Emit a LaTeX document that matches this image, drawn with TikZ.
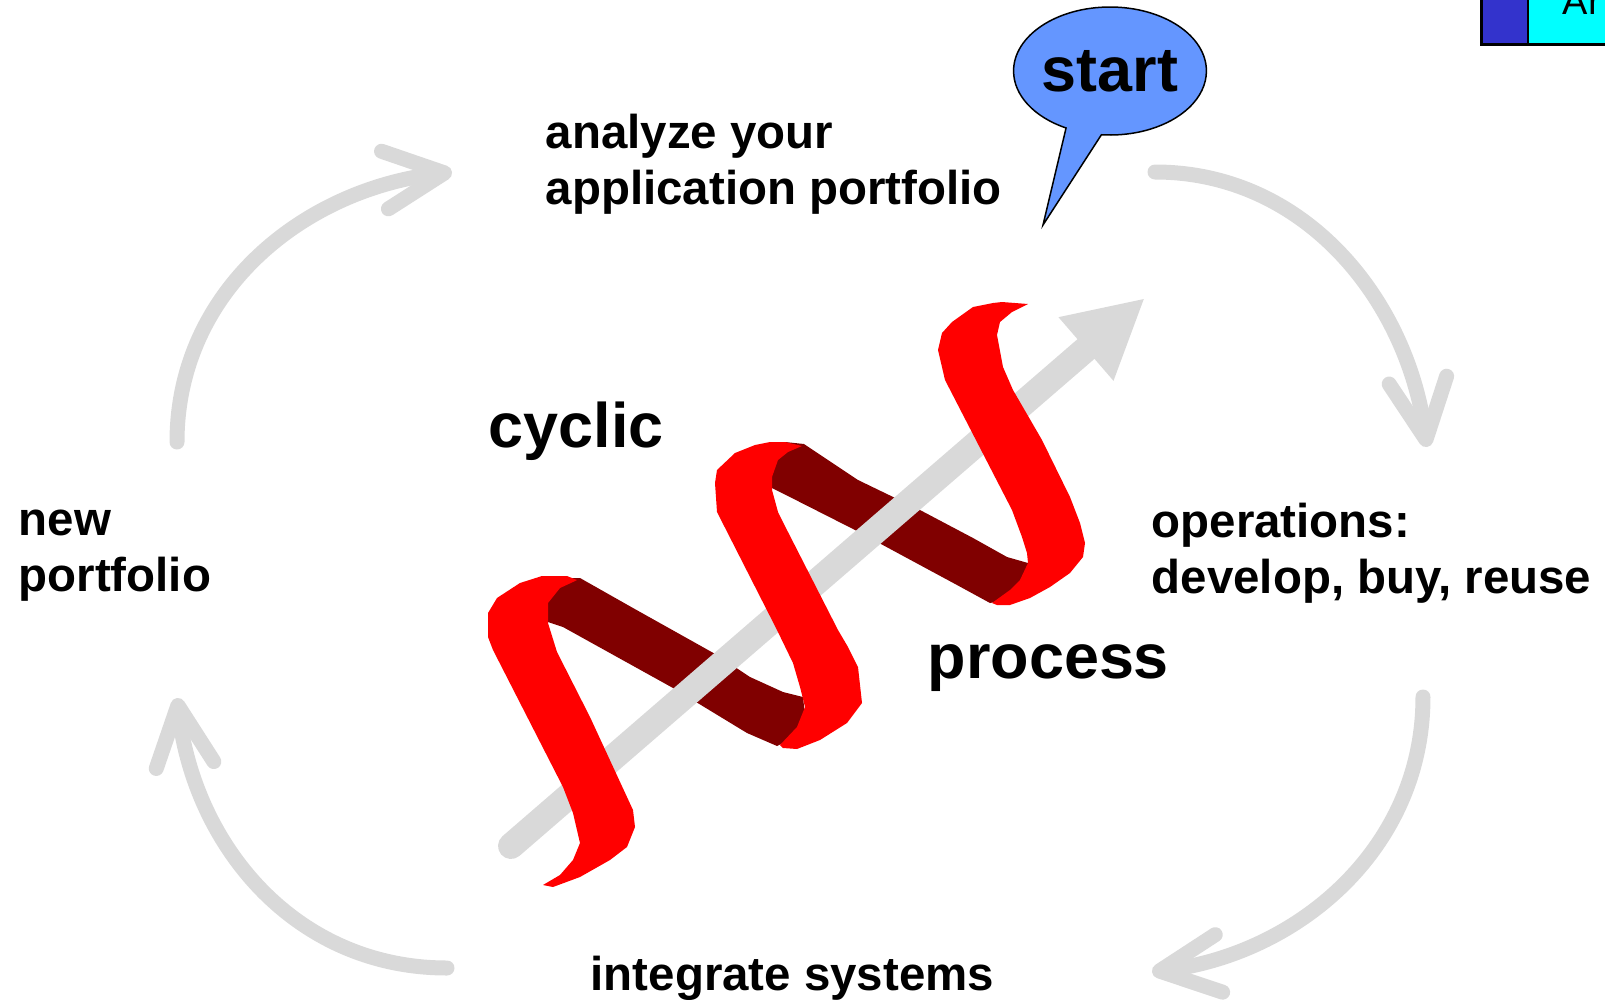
\documentclass[tikz,border=0pt]{standalone}
\usepackage{fontspec}
\setmainfont{Liberation Sans}
\usetikzlibrary{arrows.meta,shapes.callouts}

\definecolor{cyclegray}{RGB}{217,217,217}
\definecolor{ribbonred}{RGB}{255,0,0}
\definecolor{ribbondark}{RGB}{128,0,0}
\definecolor{bubbleblue}{RGB}{100,150,255}
\definecolor{boxblue}{RGB}{51,51,204}
\definecolor{boxcyan}{RGB}{0,255,255}

\begin{document}
\begin{tikzpicture}[x=0.1mm, y=-0.1mm,
    lbl/.style={font=\fontsize{13.5pt}{16pt}\selectfont\bfseries, anchor=base west, inner sep=0pt},
    biglbl/.style={font=\fontsize{17.9pt}{21pt}\selectfont\bfseries, anchor=base west, inner sep=0pt},
    cyclearrow/.style={draw=cyclegray, line width=1.5mm, line cap=round,
        -{Straight Barb[length=6mm, width=5.8mm, round]}},
    front/.style={fill=ribbonred},
    back/.style={fill=ribbondark}]
        \useasboundingbox (0,0) rectangle (1605,1000);
        \clip (0,0) rectangle (1605,1000);

        % Corner box
        \fill[boxblue] (1481,-20) rectangle (1528,45);
        \fill[boxcyan] (1528,-20) rectangle (1640,45);
        \draw[line width=0.2mm] (1528,-20) -- (1528,45);
        \draw[line width=0.3mm] (1481,-20) rectangle (1640,44.5);
        \node[font=\fontsize{10.8pt}{13pt}\selectfont, anchor=base west, inner sep=0pt] (corner) at (1562,14) {Ar};

        % Cycle
        \coordinate (tl0) at (177,442);
        \coordinate (tl1) at (452,172);
        \coordinate (tr0) at (1155,172);
        \coordinate (tr1) at (1427,447);
        \coordinate (br0) at (1423,697);
        \coordinate (br1) at (1152,972);
        \coordinate (bl0) at (447,968);
        \coordinate (bl1) at (177,698);
        \draw[cyclearrow] (tl0) .. controls (177,292) and (302,190) .. (tl1);
        \draw[cyclearrow] (tr0) .. controls (1305,172) and (1407,300) .. (tr1);
        \draw[cyclearrow] (br0) .. controls (1423,847) and (1300,953) .. (br1);
        \draw[cyclearrow] (bl0) .. controls (297,968) and (195,848) .. (bl1);

        % Spiral, back side
        \fill[back] plot coordinates {(546,592) (560,578) (580,578) (633,608) (717,655) (750,677) (783,692) (803,697) (805,715) (795,737) (777,746) (747,733) (673,688) (563,627) (548,622)} -- cycle;
        \fill[back] plot coordinates {(770,456) (785,442) (804,444) (858,480) (920,510) (973,538) (1007,557) (1028,563) (1025,585) (1005,600) (990,603) (957,585) (855,530) (782,493) (772,488)} -- cycle;

        % Axis
        \coordinate (axis0) at (511,846);
        \coordinate (axis1) at (1145,298);
        \draw[cyclegray, line width=2.6mm, line cap=round, -{Triangle[length=7.8mm, width=7.8mm]}] (axis0) -- (axis1);

        % Spiral, front side
        \fill[front] plot coordinates {(577,580) (567,576) (542,576) (520,583) (497,598) (488,613) (488,637) (493,650) (563,787) (573,813) (580,843) (573,860) (560,875) (543,885) (553,887) (580,877) (610,860) (627,847) (635,827) (633,810) (590,717) (557,652) (548,623) (548,603) (560,588) (573,582)} -- cycle;
        \fill[front] plot coordinates {(802,446) (785,442) (770,442) (755,445) (735,453) (717,470) (715,483) (717,512) (777,630) (793,663) (800,687) (805,707) (797,727) (780,745) (783,748) (797,749) (820,740) (847,723) (862,703) (858,667) (848,647) (838,630) (788,532) (778,512) (772,490) (772,477) (778,460) (788,452)} -- cycle;
        \fill[front] plot coordinates {(1028,304) (1002,302) (993,303) (973,307) (952,322) (942,333) (938,350) (945,380) (1012,510) (1022,537) (1027,553) (1028,563) (1020,580) (1010,590) (992,603) (997,605) (1010,605) (1030,598) (1050,587) (1070,573) (1083,557) (1085,543) (1080,523) (1070,497) (1042,440) (1013,390) (1003,367) (997,335) (1000,322) (1012,312)} -- cycle;

        % Nodes
        \node[ellipse callout, draw=black, line width=0.15mm, fill=bubbleblue,
            minimum width=19.2mm, minimum height=12.8mm, inner sep=0pt,
            callout absolute pointer={(1043,225)}, callout pointer arc=22,
            font=\fontsize{17.9pt}{21pt}\selectfont\bfseries] (start) at (1110,71) {start};
        \node[lbl] (analyze) at (545,148) {analyze your};
        \node[lbl] (apps) at (545,204) {application portfolio};
        \node[lbl] (new) at (18,535) {new};
        \node[lbl] (newport) at (18,591) {portfolio};
        \node[lbl] (ops) at (1151,537) {operations:};
        \node[lbl] (dev) at (1151,593) {develop, buy, reuse};
        \node[lbl] (integrate) at (590,990) {integrate systems};
        \node[biglbl] (cyclic) at (488,447) {cyclic};
        \node[biglbl] (process) at (927,678) {process};
    \end{tikzpicture}
\end{document}
